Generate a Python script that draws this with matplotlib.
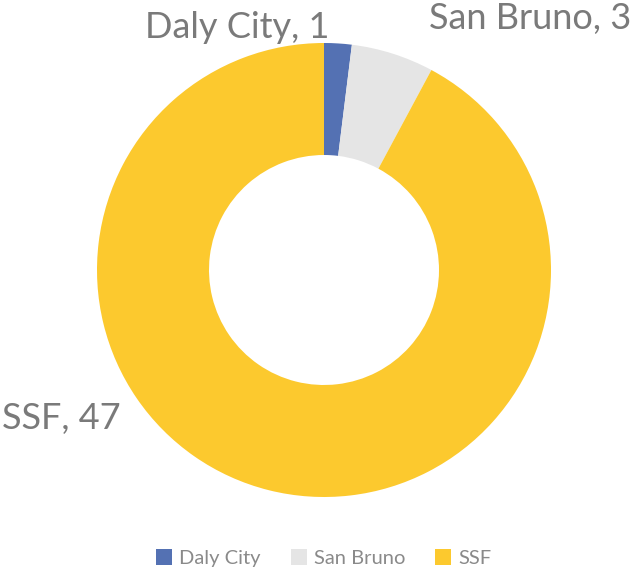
import matplotlib.pyplot as plt

# Data
cities = ["Daly City", "San Bruno", "SSF"]
counts = [1, 3, 47]
colours = ["#5471b3", "#e5e5e5", "#fcc92e"]

plt.rcParams["font.family"] = ["Lato", "DejaVu Sans"]

fig = plt.figure(figsize=(6.37, 5.71), dpi=100)
ax = fig.add_axes([0, 0, 1, 1])

# Pixel-ish coordinates: centre at (324, 270) from top
wedges, _ = ax.pie(
    counts,
    colors=colours,
    startangle=90,
    counterclock=False,
    center=(324, 571 - 270),
    radius=227,
    wedgeprops=dict(width=112, edgecolor="none"),
    frame=True,
)
ax.set_xlim(0, 637)
ax.set_ylim(0, 571)
ax.set_aspect("equal")
ax.axis("off")

# Data labels
label_pos = [(237, 571 - 27), (530, 571 - 18), (61, 571 - 418)]
for (x, y), name, n in zip(label_pos, cities, counts):
    ax.text(x, y, "{}, {}".format(name, n), ha="center", va="center",
            fontsize=26, color="#7a7a7a")

leg = ax.legend(
    wedges, cities, loc="center", bbox_to_anchor=(0.508, 1 - 558 / 571),
    ncol=3, frameon=False, fontsize=14.5, handlelength=0.8, handleheight=0.8,
    handletextpad=0.35, columnspacing=1.5,
)
for t in leg.get_texts():
    t.set_color("#8a8a8a")

fig.savefig("out.png", dpi=100)
